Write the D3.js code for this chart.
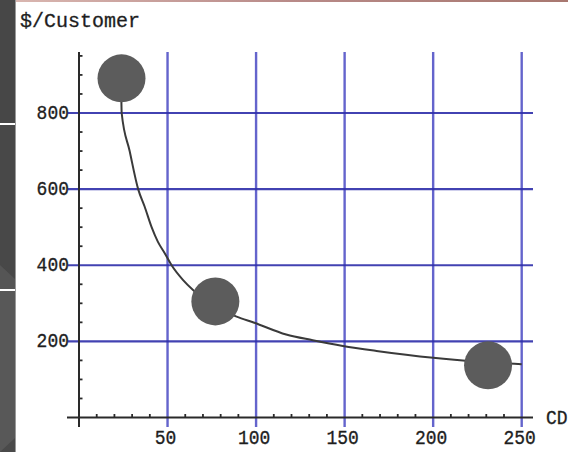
<!DOCTYPE html>
<html><head><meta charset="utf-8">
<script src="https://cdn.jsdelivr.net/npm/d3@7"></script>
<style>html,body{margin:0;padding:0;background:#fff;}svg{display:block;}</style>
</head><body>
<svg id="c" width="568" height="454"></svg>
<script>
// ---- data ----
const curveX = [23.9, 24.1, 28.6, 33.4, 37, 41, 44.5, 48.5, 52.3, 58.8, 64.4, 77, 89, 99, 117, 132, 149, 168, 200, 225, 250];
const curveY = [840, 800, 700, 600, 555, 500, 462, 431, 400, 361, 335, 292, 265, 249, 218, 203, 188, 175, 157, 147, 140];
const markX = [24, 77, 231];
const markY = [891, 305, 137];
const xTicks = [50, 100, 150, 200, 250];
const yTicks = [200, 400, 600, 800];
const xMinor = d3.range(10, 251, 10).filter(v => v % 50 !== 0);
const yMinor = [50,100,150,250,300,350,450,500,550,650,700,750,850,900,950];
const titleY = "$/Customer";
const titleX = "CD";

const svg = d3.select("#c");
const x = d3.scaleLinear().domain([0, 250]).range([79, 521.7]);
const y = d3.scaleLinear().domain([0, 800]).range([417.5, 113]);
const font = "'Liberation Mono', 'DejaVu Sans Mono', monospace";

// left decorative panel
const lp = svg.append("g");
lp.append("rect").attr("x",0).attr("y",0).attr("width",15).attr("height",123).attr("fill","#474747");
lp.append("rect").attr("x",0).attr("y",125).attr("width",15).attr("height",164).attr("fill","#484848");
lp.append("path").attr("d","M0,265 L15,279 L15,289 L0,289Z").attr("fill","#555");
lp.append("rect").attr("x",0).attr("y",291).attr("width",15).attr("height",161).attr("fill","#585858");
lp.append("path").attr("d","M0,452 L15,438 L15,452Z").attr("fill","#4a4a4a");
lp.append("rect").attr("x",15).attr("y",0).attr("width",1).attr("height",452).attr("fill","#9a9a9a");
// top strip
const grad = svg.append("defs").append("linearGradient").attr("id","tg");
grad.append("stop").attr("offset","0").attr("stop-color","#d9b6b0");
grad.append("stop").attr("offset","0.5").attr("stop-color","#b88a88");
grad.append("stop").attr("offset","1").attr("stop-color","#a87870");
svg.append("rect").attr("x",16).attr("y",0).attr("width",552).attr("height",2).attr("fill","url(#tg)");

// grid lines
svg.append("g").selectAll("line").data(xTicks).join("line")
  .attr("x1", d => x(d)).attr("x2", d => x(d))
  .attr("y1", y(960)).attr("y2", 427)
  .attr("stroke", "#4a4ac4").attr("stroke-width", 2.4).attr("opacity", 0.85);
svg.append("g").selectAll("line").data(yTicks).join("line")
  .attr("x1", 68).attr("x2", 533)
  .attr("y1", d => y(d)).attr("y2", d => y(d))
  .attr("stroke", "#2e2eaa").attr("stroke-width", 2.2).attr("opacity", 0.9);

// axes
svg.append("line").attr("x1", 67).attr("x2", 533).attr("y1", y(0)).attr("y2", y(0))
  .attr("stroke", "#2a2a2a").attr("stroke-width", 2);
svg.append("line").attr("x1", x(0)).attr("x2", x(0)).attr("y1", y(960)).attr("y2", 427)
  .attr("stroke", "#2a2a2a").attr("stroke-width", 2);
svg.append("g").selectAll("line").data(xMinor).join("line")
  .attr("x1", d => x(d)).attr("x2", d => x(d))
  .attr("y1", y(0) - 3.5).attr("y2", y(0))
  .attr("stroke", "#2a2a2a").attr("stroke-width", 1.8);
svg.append("g").selectAll("line").data(yMinor).join("line")
  .attr("x1", x(0)).attr("x2", x(0) + 3.5)
  .attr("y1", d => y(d)).attr("y2", d => y(d))
  .attr("stroke", "#2a2a2a").attr("stroke-width", 1.8);

// tick labels
svg.append("g").selectAll("text").data(yTicks).join("text")
  .attr("transform", d => `translate(69,${y(d) + 6})scale(1,1.12)`)
  .attr("text-anchor", "end").attr("font-family", font).attr("font-size", 18)
  .attr("fill", "#1e1e1e").attr("stroke", "#1e1e1e").attr("stroke-width", 0.3).text(d => d);
svg.append("g").selectAll("text").data(xTicks).join("text")
  .attr("transform", d => `translate(${x(d) - 2},444)scale(1,1.12)`)
  .attr("text-anchor", "middle").attr("font-family", font).attr("font-size", 18)
  .attr("fill", "#1e1e1e").attr("stroke", "#1e1e1e").attr("stroke-width", 0.3).text(d => d);
svg.append("text").attr("x", 20).attr("y", 27).attr("font-family", font).attr("font-size", 20)
  .attr("fill", "#1e1e1e").attr("stroke", "#1e1e1e").attr("stroke-width", 0.3).text(titleY);
svg.append("text").attr("transform", "translate(546,424)scale(1,1.12)").attr("font-family", font).attr("font-size", 18)
  .attr("fill", "#1e1e1e").attr("stroke", "#1e1e1e").attr("stroke-width", 0.3).text(titleX);

// curve
const pts = curveX.map((v, i) => [v, curveY[i]]);
svg.append("path").datum(pts)
  .attr("d", d3.line().x(d => x(d[0])).y(d => y(d[1])).curve(d3.curveMonotoneX))
  .attr("fill", "none").attr("stroke", "#3a3a3a").attr("stroke-width", 2);

// markers
svg.append("g").selectAll("circle").data(markX).join("circle")
  .attr("cx", d => x(d)).attr("cy", (d, i) => y(markY[i])).attr("r", 24)
  .attr("fill", "#5c5c5c");
</script>
</body></html>
